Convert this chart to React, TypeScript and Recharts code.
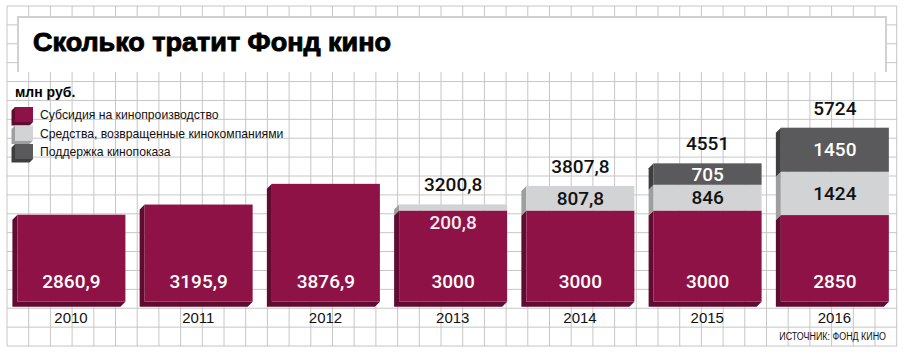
import React from "react";
import { BarChart, Bar, XAxis, YAxis, CartesianGrid, LabelList, Legend } from "recharts";

const years = ["2010", "2011", "2012", "2013", "2014", "2015", "2016"];
const subsidy = [2860.9, 3195.9, 3876.9, 3000, 3000, 3000, 2850];
const returned = [null, null, null, 200.8, 807.8, 846, 1424];
const screening = [null, null, null, null, null, 705, 1450];

const seriesNames = [
  "Субсидия на кинопроизводство",
  "Средства, возвращенные кинокомпаниями",
  "Поддержка кинопоказа",
];

const data = years.map((year, i) => ({
  year,
  subsidy: subsidy[i],
  returned: returned[i],
  screening: screening[i],
}));

const W = 905;
const H = 356;
const DEPTH = 5;

const PURPLE = "#8e1246";
const PURPLE_SIDE = "#600b30";
const LIGHT = "#d2d3d5";
const LIGHT_SIDE = "#9d9ea0";
const DARK = "#5a5a5c";
const DARK_SIDE = "#3e3e40";

const numStyle = { fontFamily: "Roboto, 'DejaVu Sans', sans-serif", fontWeight: 500, fontSize: 19 };
const narrow = "'Liberation Sans', Arial, sans-serif";

const fmt = (v: number) => String(Math.round(v * 10) / 10).replace(".", ",");

// squared paper behind everything
const gridX = Array.from({ length: 42 }, (_, k) => 7 + k * 21.7);
const gridY = Array.from({ length: 19 }, (_, k) => 6 + k * 18.89);

function makeShape(front: string, side: string, isBase: boolean) {
  return (props: any) => {
    const { x, y, width: w, height: h } = props;
    if (!h || h <= 0) return <g />;
    const d = DEPTH;
    const sidePts = isBase
      ? `${x},${y} ${x - d},${y + d} ${x - d},${y + h + d} ${x + w - d},${y + h + d} ${x + w},${y + h} ${x},${y + h}`
      : `${x},${y} ${x - d},${y + d} ${x - d},${y + h + d} ${x},${y + h}`;
    return (
      <g>
        <polygon points={sidePts} fill={side} />
        <rect x={x} y={y} width={w} height={h} fill={front} />
      </g>
    );
  };
}

function segLabel(color: string, mode: "base" | "mid") {
  return (props: any) => {
    const { value } = props;
    if (value == null || value === 0) return null;
    const vb = props.viewBox || props;
    const { x, y, width, height } = vb;
    let ty = y + height / 2 + 6.5;
    let fill = color;
    if (mode === "base") ty = y + height - 14;
    else if (height < 20) {
      // too thin to hold its number: put it just under, on the purple
      ty = y + height + 18.5;
      fill = "#ececec";
    }
    return (
      <text x={x + width / 2} y={ty} textAnchor="middle" fill={fill} style={numStyle}>
        {fmt(Number(value))}
      </text>
    );
  };
}

function totalLabel(series: "returned" | "screening") {
  return (props: any) => {
    const { index } = props;
    const row = data[index];
    if (!row) return null;
    const isTop = series === "screening" ? row.screening != null : row.returned != null && row.screening == null;
    if (!isTop) return null;
    const vb = props.viewBox || props;
    const total = (row.subsidy || 0) + (row.returned || 0) + (row.screening || 0);
    return (
      <text x={vb.x + vb.width / 2} y={vb.y - 13} textAnchor="middle" fill="#111" style={numStyle}>
        {fmt(total)}
      </text>
    );
  };
}

const YearTick = (props: any) => (
  <text x={props.x} y={props.y + 21} textAnchor="middle" fill="#111" style={{ fontFamily: narrow, fontSize: 15 }}>
    {props.payload.value}
  </text>
);

const legendColors = [
  [PURPLE, PURPLE_SIDE],
  [LIGHT, LIGHT_SIDE],
  [DARK, DARK_SIDE],
];

const LegendContent = (props: any) => {
  const items = [...(props.payload || [])].sort(
    (a: any, b: any) => seriesNames.indexOf(a.value) - seriesNames.indexOf(b.value)
  );
  return (
    <svg width={330} height={62}>
      {items.map((it: any, i: number) => {
        const [front, side] = legendColors[seriesNames.indexOf(it.value)] || [it.color, it.color];
        const fx = 7;
        const fy = 4 + i * 18.5;
        const d = 3.5;
        return (
          <g key={i}>
            <polygon
              points={`${fx},${fy} ${fx - d},${fy + d} ${fx - d},${fy + 15 + d} ${fx + 18 - d},${fy + 15 + d} ${fx + 18},${fy + 15} ${fx},${fy + 15}`}
              fill={side}
            />
            <rect x={fx} y={fy} width={18} height={15} fill={front} />
            <text x={32} y={fy + 12} fill="#111" style={{ fontFamily: narrow, fontSize: 12.2 }}>
              {it.value}
            </text>
          </g>
        );
      })}
    </svg>
  );
};

export default function App() {
  return (
    <div style={{ position: "relative", width: W, height: H, background: "#fff" }}>
      <style>{"body{margin:0}"}</style>
      <BarChart
        width={W}
        height={H}
        data={data}
        margin={{ top: 119.3, right: 6.9, bottom: 24.3, left: 7.4 }}
      >
        <CartesianGrid
          x={7}
          y={6}
          width={890}
          height={340}
          horizontalPoints={gridY}
          verticalPoints={gridX}
          stroke="#c6c6c6"
          strokeWidth={1}
        />
        <XAxis
          dataKey="year"
          axisLine={false}
          tickLine={false}
          tickSize={0}
          tickMargin={0}
          interval={0}
          height={30}
          tick={<YearTick />}
        />
        <YAxis hide domain={[0, 6000]} />
        <Legend
          layout="vertical"
          align="center"
          verticalAlign="middle"
          wrapperStyle={{ position: "absolute", left: 8, top: 103, width: 330, height: 62 }}
          content={<LegendContent />}
        />
        <Bar
          dataKey="subsidy"
          name={seriesNames[0]}
          stackId="a"
          fill={PURPLE}
          barSize={108}
          isAnimationActive={false}
          shape={makeShape(PURPLE, PURPLE_SIDE, true)}
        >
          <LabelList dataKey="subsidy" content={segLabel("#fff", "base")} />
        </Bar>
        <Bar
          dataKey="returned"
          name={seriesNames[1]}
          stackId="a"
          fill={LIGHT}
          barSize={108}
          isAnimationActive={false}
          shape={makeShape(LIGHT, LIGHT_SIDE, false)}
        >
          <LabelList dataKey="returned" content={segLabel("#111", "mid")} />
          <LabelList dataKey="returned" content={totalLabel("returned")} />
        </Bar>
        <Bar
          dataKey="screening"
          name={seriesNames[2]}
          stackId="a"
          fill={DARK}
          barSize={108}
          isAnimationActive={false}
          shape={makeShape(DARK, DARK_SIDE, false)}
        >
          <LabelList dataKey="screening" content={segLabel("#fff", "mid")} />
          <LabelList dataKey="screening" content={totalLabel("screening")} />
        </Bar>
      </BarChart>
      <svg
        width={W}
        height={H}
        style={{ position: "absolute", left: 0, top: 0, pointerEvents: "none" }}
      >
        <rect x={17} y={16} width={870} height={56} fill="#fff" />
        <path d="M18,72 V17 H886 V72" stroke="#d0d0d0" strokeWidth={2} fill="none" />
        <text
          x={33}
          y={50.7}
          textLength={358}
          lengthAdjust="spacingAndGlyphs"
          fill="#000"
          stroke="#000"
          strokeWidth={0.9}
          style={{ fontFamily: narrow, fontWeight: 700, fontSize: 25 }}
        >
          Сколько тратит Фонд кино
        </text>
        <text x={15} y={96.7} fill="#000" style={{ fontFamily: narrow, fontWeight: 700, fontSize: 14 }}>
          млн руб.
        </text>
        <text
          transform="translate(886,340) scale(0.81,1)"
          textAnchor="end"
          fill="#111"
          style={{ fontFamily: narrow, fontSize: 11 }}
        >
          ИСТОЧНИК: ФОНД КИНО
        </text>
      </svg>
    </div>
  );
}
